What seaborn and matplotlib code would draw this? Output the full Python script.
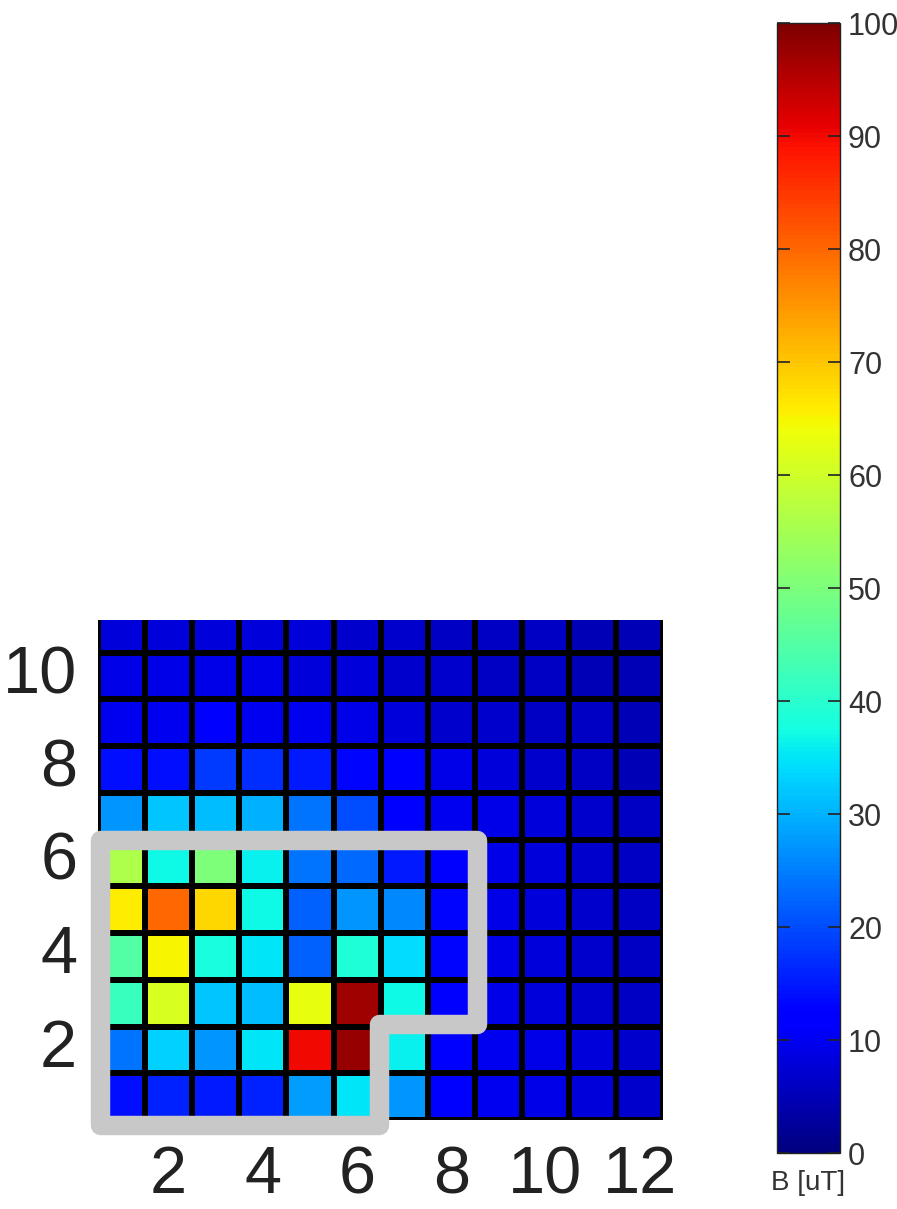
import numpy as np
import pandas as pd
import matplotlib
matplotlib.use("Agg")
import matplotlib.pyplot as plt
import seaborn as sns
from matplotlib.patches import Polygon

# field map B [uT]; rows listed from the top of the plot (y=11) down to y=1,
# columns are x = 1..12
y_rows = [11, 10, 9, 8, 7, 6, 5, 4, 3, 2, 1]
x_cols = list(range(1, 13))

row_y11 = [8, 8, 8, 8, 8, 7, 7, 6, 6, 6, 5, 5]
row_y10 = [9, 9, 9, 9, 8, 8, 7, 7, 6, 6, 5, 5]
row_y9 = [10, 10, 11, 10, 10, 9, 8, 7, 7, 6, 6, 5]
row_y8 = [14, 14, 18, 17, 15, 13, 11, 9, 8, 7, 6, 5]
row_y7 = [27, 32, 31, 30, 24, 20, 12, 10, 9, 8, 7, 6]
row_y6 = [56, 37, 50, 36, 24, 23, 15, 11, 9, 8, 7, 6]
row_y5 = [66, 80, 68, 37, 22, 27, 26, 13, 9, 8, 7, 6]
row_y4 = [45, 65, 38, 35, 22, 39, 34, 13, 9, 8, 7, 6]
row_y3 = [42, 61, 32, 31, 63, 97, 37, 12, 9, 8, 7, 6]
row_y2 = [24, 33, 27, 35, 90, 98, 36, 12, 10, 9, 8, 7]
row_y1 = [14, 16, 15, 16, 28, 35, 27, 11, 10, 9, 8, 7]

x_ticks = [2, 4, 6, 8, 10, 12]
y_ticks = [2, 4, 6, 8, 10]
cbar_ticks = list(range(0, 101, 10))
cbar_label = "B [uT]"

# outline of the selected region, in grid units (x, y as on the axes)
outline_x = [0.55, 6.47, 6.47, 8.55, 8.55, 0.55]
outline_y = [0.4, 0.4, 2.55, 2.55, 6.5, 6.5]

plt.rcParams['font.family'] = ['Liberation Sans', 'DejaVu Sans']

field = pd.DataFrame([row_y11, row_y10, row_y9, row_y8, row_y7, row_y6,
                      row_y5, row_y4, row_y3, row_y2, row_y1],
                     index=y_rows, columns=x_cols)


# seaborn puts cell (row i, col j) on [j, j+1] x [i, i+1], first row on top
def to_sx(v):
    return np.asarray(v, dtype=float) - 0.5


def to_sy(v):
    return len(y_rows) + 0.5 - np.asarray(v, dtype=float)


fig = plt.figure(figsize=(8.97, 12.09), dpi=100)
ax = fig.add_axes([0.1093, 0.0736, 0.630, 0.4136])
cax = fig.add_axes([0.866, 0.0463, 0.0702, 0.9346])

sns.heatmap(field, ax=ax, cbar_ax=cax, cmap='jet', vmin=0, vmax=100,
            linewidths=3, linecolor='black')

ax.set_xlim(0, len(x_cols))
ax.set_ylim(len(y_rows), to_sy(11.2))
ax.set_xticks(to_sx(x_ticks))
ax.set_xticklabels(x_ticks, rotation=0, fontsize=48)
ax.set_yticks(to_sy(y_ticks))
ax.set_yticklabels(y_ticks, rotation=0, fontsize=48)
ax.set_xlabel('')
ax.set_ylabel('')
ax.tick_params(length=0, labelcolor='#222222')
ax.tick_params(axis='x', pad=18)
ax.tick_params(axis='y', pad=15)

outline = Polygon(np.column_stack([to_sx(outline_x), to_sy(outline_y)]),
                  closed=True, fill=False, edgecolor='#c8c8c8', lw=14,
                  joinstyle='round', clip_on=False, zorder=5)
ax.add_patch(outline)

cbar = ax.collections[0].colorbar
cbar.set_ticks(cbar_ticks)
cbar.set_ticklabels([str(t) for t in cbar_ticks])
cax.tick_params(direction='in', left=True, right=True, length=9, width=1.2,
                color='#222222', labelsize=22, labelcolor='#333333', pad=6)
cbar.outline.set_edgecolor('#222222')
cbar.outline.set_linewidth(1)
cax.set_xlabel(cbar_label, fontsize=20, color='#333333', labelpad=12)

fig.savefig('out.png', dpi=100)
